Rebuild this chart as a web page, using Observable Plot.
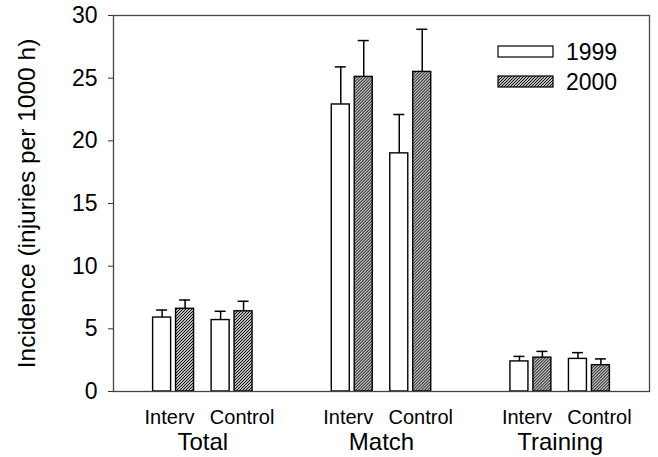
<!DOCTYPE html>
<html>
<head>
<meta charset="utf-8">
<script src="https://cdn.jsdelivr.net/npm/d3@7"></script>
<script src="https://cdn.jsdelivr.net/npm/@observablehq/plot@0.6"></script>
<style>
  html, body { margin: 0; padding: 0; background: white; }
</style>
</head>
<body>
<div id="chart"></div>
<script>
// ---- data ----
const groups = ["Total", "Match", "Training"];
const conditions = ["Interv", "Control"];
const years = ["1999", "2000"];
// order: Total-Interv, Total-Control, Match-Interv, Match-Control, Training-Interv, Training-Control
const incidence1999 = [5.9, 5.7, 22.9, 19.0, 2.4, 2.6];
const incidence2000 = [6.6, 6.4, 25.1, 25.5, 2.7, 2.1];
const error1999 = [0.6, 0.7, 3.0, 3.1, 0.4, 0.5];
const error2000 = [0.7, 0.8, 2.9, 3.4, 0.5, 0.5];
const yTicks = [0, 5, 10, 15, 20, 25, 30];
const yLabel = "Incidence (injuries per 1000 h)";

// ---- table ----
const rows = [];
groups.forEach((g, gi) => conditions.forEach((c, ci) => {
  const k = gi * conditions.length + ci;
  rows.push({group: g, cond: c, year: years[0], value: incidence1999[k], upper: incidence1999[k] + error1999[k]});
  rows.push({group: g, cond: c, year: years[1], value: incidence2000[k], upper: incidence2000[k] + error2000[k]});
}));
const r1999 = rows.filter(d => d.year === years[0]);
const r2000 = rows.filter(d => d.year === years[1]);

// ---- layout ----
const W = 658, H = 457;
const mL = 113, mR = 9, mT = 15, mB = 66;
const pIn = 0.3, pOut = 0.677;
const facetW = (W - mL - mR) / groups.length;
const step = facetW / (conditions.length - pIn + 2 * pOut);
const bw = step * (1 - pIn);
const barW = 18;
const capW = 11;
const inset = bw - barW;
const capIn = barW / 2 - capW / 2;
const font = "'Liberation Sans', Arial, Helvetica, sans-serif";

const plot = Plot.plot({
  width: W, height: H,
  marginLeft: mL, marginRight: mR, marginTop: mT, marginBottom: mB,
  style: {fontFamily: font, color: "black", background: "white", overflow: "visible"},
  fx: {domain: groups, padding: 0, round: false, label: null},
  x: {domain: conditions, paddingInner: pIn, paddingOuter: pOut, round: false, label: null},
  y: {domain: [0, 30], label: null},
  marks: [
    Plot.barY(r1999, {fx: "group", x: "cond", y: "value", fill: "white", stroke: "black", strokeWidth: 1.4, insetRight: inset}),
    Plot.barY(r2000, {fx: "group", x: "cond", y: "value", fill: "url(#hatch2000)", stroke: "black", strokeWidth: 1.4, insetLeft: inset}),
    Plot.ruleX(r1999, {fx: "group", x: "cond", y1: "value", y2: "upper", dx: -(bw / 2 - barW / 2), stroke: "black", strokeWidth: 1.5}),
    Plot.ruleX(r2000, {fx: "group", x: "cond", y1: "value", y2: "upper", dx: (bw / 2 - barW / 2), stroke: "black", strokeWidth: 1.5}),
    Plot.tickY(r1999, {fx: "group", x: "cond", y: "upper", insetLeft: capIn, insetRight: bw - barW + capIn, stroke: "black", strokeWidth: 1.5}),
    Plot.tickY(r2000, {fx: "group", x: "cond", y: "upper", insetLeft: bw - barW + capIn, insetRight: capIn, stroke: "black", strokeWidth: 1.5}),
    Plot.frame({facet: "super", stroke: "#444", strokeWidth: 1.3}),
    Plot.axisY(yTicks, {tickSize: 5, tickPadding: 11, fontSize: 23, stroke: "#333", label: null}),
    Plot.axisY([], {fontSize: 24.5, label: yLabel, labelAnchor: "center", labelOffset: 96, labelArrow: "none"}),
    Plot.axisX([conditions[0]], {tickSize: 0, tickPadding: 18, fontSize: 20, dx: -4, label: null}),
    Plot.axisX([conditions[1]], {tickSize: 0, tickPadding: 18, fontSize: 20, dx: 10, label: null}),
    Plot.axisFx({anchor: "bottom", tickSize: 0, tickPadding: 41, fontSize: 24, label: null})
  ]
});

const svg = d3.select(plot);
const defs = svg.insert("defs", ":first-child");
const pat = defs.append("pattern")
  .attr("id", "hatch2000")
  .attr("patternUnits", "userSpaceOnUse")
  .attr("width", 3).attr("height", 3);
pat.append("rect").attr("width", 3).attr("height", 3).attr("fill", "white");
pat.append("path").attr("d", "M-1,1 l2,-2 M0,3 l3,-3 M2,4 l2,-2")
  .attr("stroke", "black").attr("stroke-width", 1.05);

// legend (inside plot, top right)
const legend = svg.append("g").attr("font-family", font).attr("font-size", 23).attr("text-anchor", "start");
const fills = ["white", "url(#hatch2000)"];
years.forEach((yr, i) => {
  const yTop = 46 + i * 30;
  legend.append("rect").attr("x", 498).attr("y", yTop).attr("width", 55).attr("height", 11)
    .attr("fill", fills[i]).attr("stroke", "black").attr("stroke-width", 1.2);
  legend.append("text").attr("x", 566).attr("y", yTop + 13.5).attr("fill", "black").text(yr);
});

document.getElementById("chart").appendChild(plot);
</script>
</body>
</html>
